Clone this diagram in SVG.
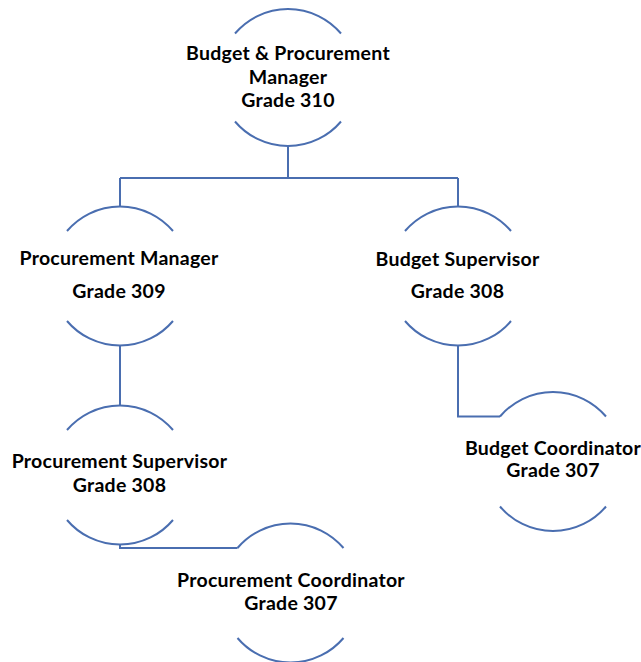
<svg xmlns="http://www.w3.org/2000/svg" width="641" height="662" viewBox="0 0 641 662">
<style>
.arc{fill:none;stroke:#4a6eb0;stroke-width:2}
.con{fill:none;stroke:#4a6eb0;stroke-width:2}
text{font-family:Lato,"Liberation Sans",sans-serif;font-weight:bold;font-size:19.5px;letter-spacing:0.25px;fill:#000;text-anchor:middle}
</style>
<rect width="641" height="662" fill="#fff"/>
<g id="connectors">
<path class="con" d="M288 147V178M120 178H458M120 178V206.5M458 178V206.5"/>
<path class="con" d="M120 345.5V405.5"/>
<path class="con" d="M458 345.5V416.5H500"/>
<path class="con" d="M120 544.5V548H237.5"/>
</g>
<g id="n1">
<path class="arc" d="M235 33.5A69.5 69.5 0 0 1 341 33.5M235 121.5A69.5 69.5 0 0 0 341 121.5"/>
<text x="288" y="60">Budget &amp; Procurement</text>
<text x="288" y="83.5">Manager</text>
<text x="288" y="106.5">Grade 310</text>
</g>
<g id="n2">
<path class="arc" d="M67 231A69.5 69.5 0 0 1 173 231M67 321A69.5 69.5 0 0 0 173 321"/>
<text x="119" y="265">Procurement Manager</text>
<text x="119" y="298">Grade 309</text>
</g>
<g id="n3">
<path class="arc" d="M405 231A69.5 69.5 0 0 1 511 231M405 321A69.5 69.5 0 0 0 511 321"/>
<text x="457.5" y="266">Budget Supervisor</text>
<text x="457.5" y="298">Grade 308</text>
</g>
<g id="n4">
<path class="arc" d="M67 430A69.5 69.5 0 0 1 173 430M67 520A69.5 69.5 0 0 0 173 520"/>
<text x="119.5" y="468">Procurement Supervisor</text>
<text x="119.5" y="491.5">Grade 308</text>
</g>
<g id="n5">
<path class="arc" d="M237.5 548A69.5 69.5 0 0 1 343.5 548M237.5 638A69.5 69.5 0 0 0 343.5 638"/>
<text x="291" y="586.5">Procurement Coordinator</text>
<text x="291" y="610">Grade 307</text>
</g>
<g id="n6">
<path class="arc" d="M500 416.5A69.5 69.5 0 0 1 606 416.5M500 506.5A69.5 69.5 0 0 0 606 506.5"/>
<text x="553" y="455">Budget Coordinator</text>
<text x="553" y="477">Grade 307</text>
</g>
</svg>
